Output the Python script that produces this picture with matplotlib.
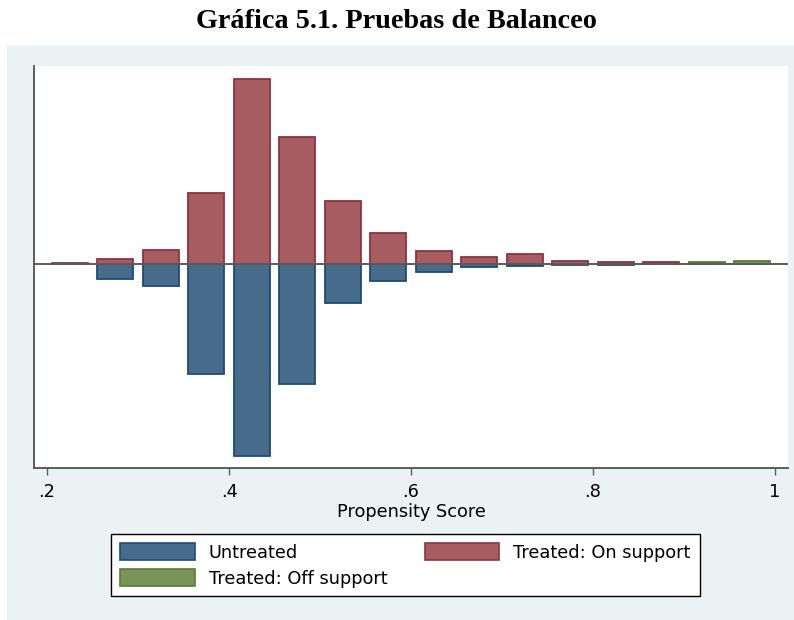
import numpy as np
import matplotlib
matplotlib.use("Agg")
import matplotlib.pyplot as plt
from matplotlib.patches import Rectangle, Patch

# propensity score bins (midpoints, width .05)
bin_mid = [0.225, 0.275, 0.325, 0.375, 0.425, 0.475, 0.525, 0.575,
           0.625, 0.675, 0.725, 0.775, 0.825, 0.875, 0.925, 0.975]
treated_on = [0.5, 4.4, 13.4, 70.7, 184.7, 126.7, 62.7, 30.4,
              12.4, 6.4, 9.4, 2.4, 1.4, 1.4, 0.5, 0.0]
treated_off = [0.0, 0.0, 0.0, 0.0, 0.0, 0.0, 0.0, 0.0,
               0.0, 0.0, 0.0, 0.0, 0.0, 0.0, 1.7, 2.7]
untreated = [0.0, 15.6, 22.6, 110.3, 192.0, 120.3, 39.3, 17.6,
             8.6, 3.6, 2.6, 1.0, 1.0, 0.0, 0.0, 0.0]
xticks = [0.2, 0.4, 0.6, 0.8, 1.0]
xticklabels = [".2", ".4", ".6", ".8", "1"]

W, H = 794, 620
FS = 12.8
plt.rcParams['font.family'] = ['DejaVu Sans']
fig = plt.figure(figsize=(W / 100, H / 100), dpi=100)

# graph region background
fig.patches.append(Rectangle((7 / W, 0), 1 - 7 / W, (H - 45) / H,
                             transform=fig.transFigure, facecolor="#eaf2f3",
                             edgecolor="none", zorder=-1))

ax = fig.add_axes([34 / W, (H - 468) / H, (788 - 34) / W, (468 - 66) / H])
ax.set_facecolor("white")

blue_fc, blue_ec = "#476c8b", "#1f4a73"
red_fc, red_ec = "#a65c61", "#8f3340"
green_fc, green_ec = "#789458", "#5a7d33"

x = np.array(bin_mid)
bw = 0.04


def draw_bars(vals, sign, fc, ec, bottom=None):
    vals = np.array(vals)
    m = vals > 0
    b = 0 if bottom is None else np.array(bottom)[m]
    ax.bar(x[m], sign * vals[m], width=bw, bottom=b, color=fc,
           edgecolor=ec, linewidth=1.3, zorder=2)


draw_bars(untreated, -1, blue_fc, blue_ec)
draw_bars(treated_on, 1, red_fc, red_ec)
draw_bars(treated_off, 1, green_fc, green_ec, bottom=treated_on)

ax.axhline(0, color="#5a5a5a", linewidth=1.4, zorder=3)

ax.set_xlim(0.2 - 13 / 910, 1.0 + 13 / 910)
ax.set_ylim(-204.3, 197.7)

for s in ["top", "right"]:
    ax.spines[s].set_visible(False)
for s in ["left", "bottom"]:
    ax.spines[s].set_color("#505050")
    ax.spines[s].set_linewidth(1.3)

ax.set_yticks([])
ax.set_xticks(xticks)
ax.set_xticklabels(xticklabels)
ax.tick_params(axis="x", direction="out", length=5, width=1, color="#606060",
               labelsize=FS, pad=6)
ax.set_xlabel("Propensity Score", fontsize=FS, labelpad=1)

fig.text(0.5, 1 - 22 / H, "Gráfica 5.1. Pruebas de Balanceo",
         ha="center", va="center", fontsize=20.3, fontweight="bold",
         family=["Liberation Serif", "DejaVu Serif"])

# legend fills column by column
handles = [
    Patch(facecolor=blue_fc, edgecolor=blue_ec, linewidth=1.2, label="Untreated"),
    Patch(facecolor=green_fc, edgecolor=green_ec, linewidth=1.2, label="Treated: Off support"),
    Patch(facecolor=red_fc, edgecolor=red_ec, linewidth=1.2, label="Treated: On support"),
]
leg = fig.legend(handles=handles, ncol=2, loc="upper left",
                 bbox_to_anchor=(111 / W, 1 - 534 / H),
                 fontsize=FS, frameon=True, fancybox=False,
                 framealpha=1, facecolor="white",
                 handlelength=4.2, handleheight=1.12, handletextpad=0.79,
                 labelspacing=0.41, borderpad=0.5, borderaxespad=0,
                 columnspacing=2.1)
leg.get_frame().set_edgecolor("black")
leg.get_frame().set_linewidth(1.0)

fig.savefig("out.png", dpi=100)
